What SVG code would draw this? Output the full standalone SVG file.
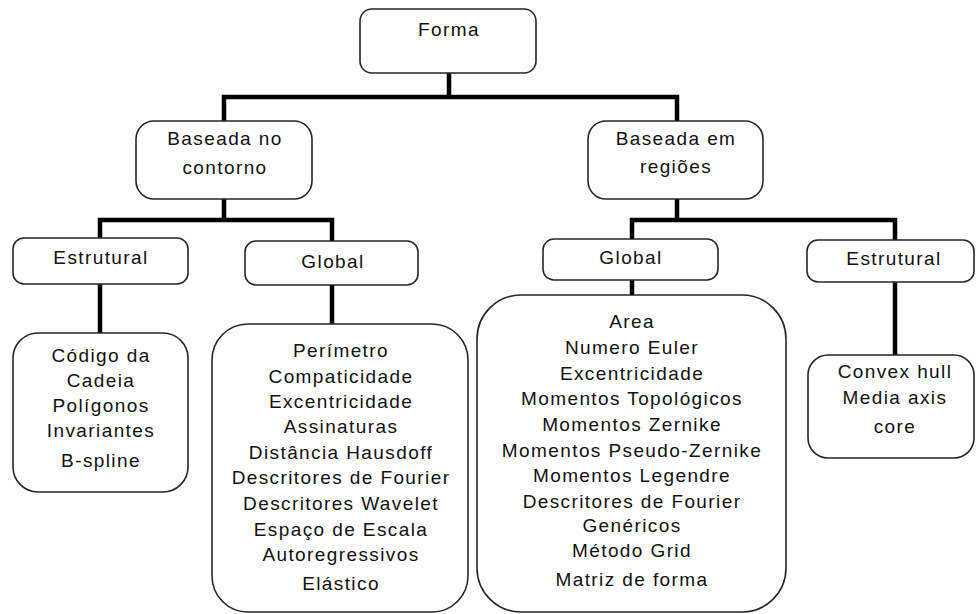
<svg xmlns="http://www.w3.org/2000/svg" width="976" height="614" viewBox="0 0 976 614">
  <style>
    .box { fill: #ffffff; stroke: #262626; stroke-width: 1.6; }
    .lbl { font-family: "Liberation Sans", Arial, sans-serif; font-size: 19px; letter-spacing: 1.4px; fill: #111; text-anchor: middle; }
    .wire { fill: none; stroke: #000; stroke-width: 4.5; stroke-linecap: square; stroke-linejoin: miter; }
  </style>
  <rect width="976" height="614" fill="#ffffff"/>

  <!-- connectors -->
  <g id="connectors">
    <path class="wire" d="M449 73 V97 M224 121 V97 H677 V121"/>
    <path class="wire" d="M224 199 V220 M100 238 V220 H332 V241"/>
    <path class="wire" d="M677 199 V220 M632 239 V220 H895 V240"/>
    <path class="wire" d="M100 284 V333"/>
    <path class="wire" d="M332 285 V324"/>
    <path class="wire" d="M632 280 V295"/>
    <path class="wire" d="M895 282 V355"/>
  </g>

  <!-- root -->
  <g id="forma">
    <rect class="box" x="360" y="9" width="176" height="64" rx="12"/>
    <text class="lbl" x="449" y="36">Forma</text>
  </g>

  <!-- second level -->
  <g id="contorno">
    <rect class="box" x="136" y="121" width="176" height="78" rx="18"/>
    <text class="lbl" x="225" y="145">Baseada no</text>
    <text class="lbl" x="225" y="174">contorno</text>
  </g>
  <g id="regioes">
    <rect class="box" x="588" y="121" width="175" height="78" rx="18"/>
    <text class="lbl" x="676" y="145">Baseada em</text>
    <text class="lbl" x="676" y="173">regiões</text>
  </g>

  <!-- third level -->
  <g id="contorno-estrutural">
    <rect class="box" x="13" y="238" width="175" height="46" rx="11"/>
    <text class="lbl" x="101" y="264">Estrutural</text>
  </g>
  <g id="contorno-global">
    <rect class="box" x="245" y="241" width="173" height="44" rx="11"/>
    <text class="lbl" x="333" y="268">Global</text>
  </g>
  <g id="regioes-global">
    <rect class="box" x="543" y="239" width="175" height="41" rx="11"/>
    <text class="lbl" x="631" y="264">Global</text>
  </g>
  <g id="regioes-estrutural">
    <rect class="box" x="807" y="240" width="167" height="42" rx="11"/>
    <text class="lbl" x="894" y="265">Estrutural</text>
  </g>

  <!-- leaf lists -->
  <g id="lista-contorno-estrutural">
    <rect class="box" x="13" y="333" width="175" height="159" rx="25"/>
    <text class="lbl" x="101" y="362">Código da</text>
    <text class="lbl" x="101" y="387">Cadeia</text>
    <text class="lbl" x="101" y="412">Polígonos</text>
    <text class="lbl" x="101" y="437">Invariantes</text>
    <text class="lbl" x="101" y="467">B-spline</text>
  </g>

  <g id="lista-contorno-global">
    <rect class="box" x="212" y="324" width="256" height="288" rx="36"/>
    <text class="lbl" x="341" y="357">Perímetro</text>
    <text class="lbl" x="341" y="383">Compaticidade</text>
    <text class="lbl" x="341" y="408">Excentricidade</text>
    <text class="lbl" x="341" y="433">Assinaturas</text>
    <text class="lbl" x="341" y="459">Distância Hausdoff</text>
    <text class="lbl" x="341" y="484">Descritores de Fourier</text>
    <text class="lbl" x="341" y="510">Descritores Wavelet</text>
    <text class="lbl" x="341" y="536">Espaço de Escala</text>
    <text class="lbl" x="341" y="561">Autoregressivos</text>
    <text class="lbl" x="341" y="590">Elástico</text>
  </g>

  <g id="lista-regioes-global">
    <rect class="box" x="477" y="295" width="309" height="317" rx="44"/>
    <text class="lbl" x="632" y="328">Area</text>
    <text class="lbl" x="632" y="354">Numero Euler</text>
    <text class="lbl" x="632" y="380">Excentricidade</text>
    <text class="lbl" x="632" y="405">Momentos Topológicos</text>
    <text class="lbl" x="632" y="431">Momentos Zernike</text>
    <text class="lbl" x="632" y="457">Momentos Pseudo-Zernike</text>
    <text class="lbl" x="632" y="482">Momentos Legendre</text>
    <text class="lbl" x="632" y="508">Descritores de Fourier</text>
    <text class="lbl" x="632" y="532">Genéricos</text>
    <text class="lbl" x="632" y="557">Método Grid</text>
    <text class="lbl" x="632" y="586">Matriz de forma</text>
  </g>

  <g id="lista-regioes-estrutural">
    <rect class="box" x="808" y="355" width="166" height="103" rx="20"/>
    <text class="lbl" x="895" y="378">Convex hull</text>
    <text class="lbl" x="895" y="404">Media axis</text>
    <text class="lbl" x="895" y="433">core</text>
  </g>
</svg>
